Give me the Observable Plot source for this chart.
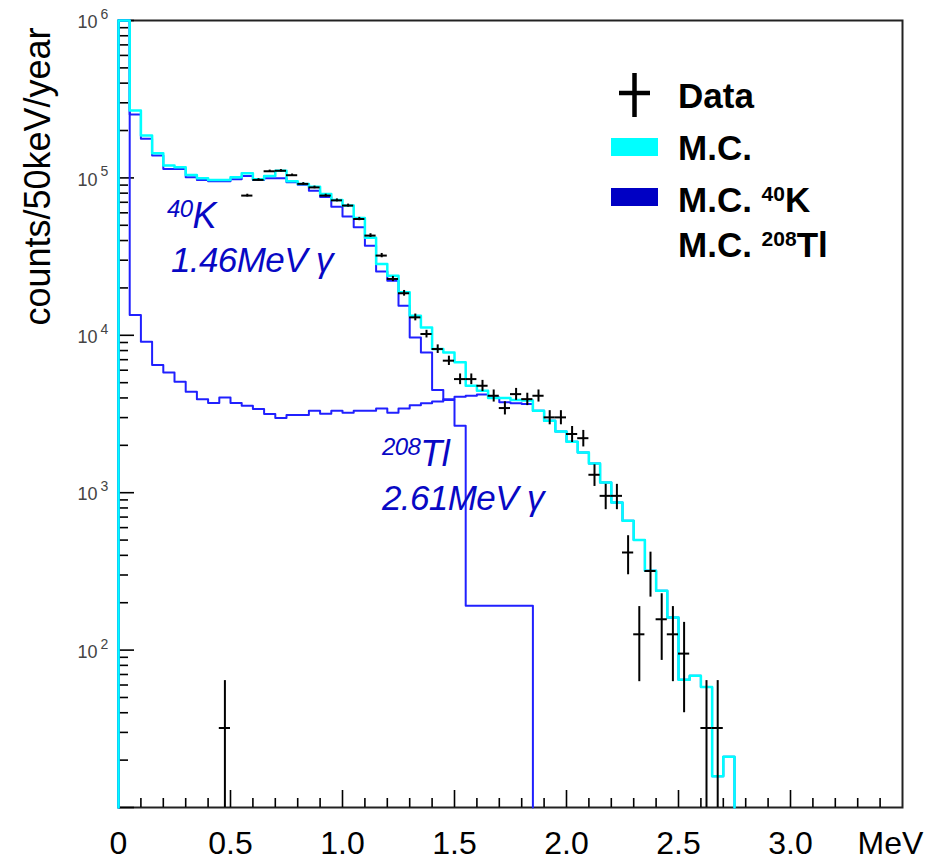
<!DOCTYPE html>
<html><head><meta charset="utf-8">
<script src="https://cdn.jsdelivr.net/npm/d3@7"></script>
<script src="https://cdn.jsdelivr.net/npm/@observablehq/plot@0.6"></script>
<style>
body{margin:0;background:#fff;}
#chart{width:931px;height:861px;}
</style></head><body><div id="chart"></div>
<script>
// ---- data (counts / 50 keV / year), 50 keV bins starting at 0 MeV ----
const binWidth = 0.05; // MeV
const mcTotal = [3e6, 268000, 186000, 143600, 120000, 117000, 104500, 99400, 97100, 97000,
  100900, 107000, 98000, 103000, 111000, 95200, 91600, 88000, 79000, 72400,
  66700, 55700, 41600, 28400, 23900, 18750, 13330, 11220, 8180, 7780,
  6730, 4780, 4440, 4000, 4000, 3880, 3850, 3320, 2870, 2450,
  2110, 1800, 1535, 1160, 867, 663, 500, 319, 238, 161,
  64.7, 68.6, 58.3, 15.8, 21.0];
const mcK40 = [3e6, 252700, 177000, 138700, 114000, 114000, 100900, 97100, 95200, 95200,
  98000, 103000, 97000, 99400, 99400, 94000, 90400, 83000, 75500, 65500,
  56800, 48500, 37100, 25400, 22200, 15400, 9700, 7780, 4490, 3880,
  2660, 191, 191, 191, 191, 191, 191];
const mcTl208 = [3e6, 13460, 9100, 6470, 5810, 5070, 4380, 3930, 3710, 4030,
  3710, 3570, 3400, 3160, 2980, 3120, 3120, 3320, 3170, 3320,
  3220, 3320, 3320, 3430, 3220, 3430, 3600, 3700, 3800, 3930,
  4070, 4130, 4200, 4030, 3750, 3700, 3660, 3320, 2870, 2450,
  2110, 1800, 1535, 1160, 867, 663, 500, 319, 238, 161,
  64.7, 68.6, 58.3, 15.8, 21.0];
const dataEnergy = [0.475, 0.575, 0.625, 0.675, 0.725, 0.775, 0.825, 0.875, 0.925, 0.975,
  1.025, 1.075, 1.125, 1.175, 1.225, 1.275, 1.325, 1.375, 1.425, 1.475,
  1.525, 1.575, 1.625, 1.675, 1.725, 1.775, 1.825, 1.875, 1.925, 1.975,
  2.025, 2.075, 2.125, 2.175, 2.225, 2.275, 2.325, 2.375, 2.425, 2.475,
  2.525, 2.625, 2.675];
const dataValues = [32, 77200, 97100, 110200, 111000, 104000, 91600, 87000, 77200, 72000,
  66700, 54800, 43000, 32100, 22800, 18500, 13000, 10190, 8180, 6900,
  5270, 5270, 4780, 4130, 3450, 4230, 3930, 4130, 3010, 3010,
  2360, 2220, 1300, 955, 955, 417, 126, 318, 157, 126,
  95, 32, 32];
const dataErrors = [32, 1572, 1763, 1878, 1885, 1824, 1712, 1669, 1572, 1518,
  1461, 1324, 1173, 1014, 854, 769, 645, 571, 512, 470,
  411, 411, 391, 364, 332, 368, 355, 364, 310, 310,
  275, 267, 204, 175, 175, 116, 63, 101, 71, 63,
  55, 32, 32];
const xTickValues = [0, 0.5, 1.0, 1.5, 2.0, 2.5, 3.0];
const xTickLabels = ["0", "0.5", "1.0", "1.5", "2.0", "2.5", "3.0"];
const xUnit = "MeV";
const yDecades = [1e1, 1e2, 1e3, 1e4, 1e5, 1e6];
const yLabelDecades = [1e2, 1e3, 1e4, 1e5, 1e6];
const yTitle = "counts/50keV/year";
const legendLabels = [[["Data"]], [["M.C."]], [["M.C. "], ["40", true], ["K"]], [["M.C. "], ["208", true], ["Tl"]]];
const annotationK = [[["40", true], ["K"]], [["1.46MeV γ"]]];
const annotationTl = [[["208", true], ["Tl"]], [["2.61MeV γ"]]];

// ---- colours ----
const cyan = "#00ffff", lineBlue = "#2020ff", textBlue = "#0808c4", swatchBlue = "#0000c4";

// ---- helpers ----
const FLOOR = 1; // below the axis, clamped onto it
const outline = vals => [{x: 0, y: FLOOR}, ...vals.map((v, i) => ({x: i * binWidth, y: v})), {x: vals.length * binWidth, y: FLOOR}];
const points = dataEnergy.map((e, i) => ({e, v: dataValues[i], lo: Math.max(dataValues[i] - dataErrors[i], FLOOR), hi: dataValues[i] + dataErrors[i]}));

const W = 931, H = 861, ML = 118, MR = 29, MT = 20, MB = 54;
const FW = W - ML - MR, FH = H - MT - MB;
const xMajor = d3.range(0.5, 3.01, 0.5);
const xMinor = d3.range(1, 35).map(i => i / 10).filter(v => Math.abs(v * 2 - Math.round(v * 2)) > 1e-6);
const yMinor = [];
for (const d of yDecades.slice(0, -1)) for (let k = 2; k <= 9; k++) yMinor.push(d * k);

function richText(g, x, y, parts, size, supSize, raise, attrs) {
  const t = g.append("text").attr("x", x).attr("y", y).attr("font-size", size).attr("text-anchor", "start");
  for (const [k, v] of Object.entries(attrs)) t.attr(k, v);
  let up = false;
  for (const [s, sup] of parts) {
    const ts = t.append("tspan").text(s);
    if (sup) { ts.attr("font-size", supSize).attr("dy", -raise); up = true; }
    else if (up) { ts.attr("dy", raise); up = false; }
  }
}

function overlay() {
  const g = d3.create("svg:g").attr("font-family", "'Liberation Sans', Arial, sans-serif").attr("text-anchor", "start");
  // legend
  g.append("line").attr("x1", 619).attr("x2", 650).attr("y1", 93).attr("y2", 93).attr("stroke", "black").attr("stroke-width", 4.5);
  g.append("line").attr("x1", 634.5).attr("x2", 634.5).attr("y1", 73).attr("y2", 117).attr("stroke", "black").attr("stroke-width", 4.5);
  g.append("rect").attr("x", 611).attr("y", 138).attr("width", 47).attr("height", 18).attr("fill", cyan);
  g.append("rect").attr("x", 611).attr("y", 188).attr("width", 47).attr("height", 18).attr("fill", swatchBlue);
  const ly = [108, 160, 212, 257];
  legendLabels.forEach((parts, i) => richText(g, 678, ly[i], parts, 35, 21, 11, {"font-weight": "bold", fill: "black"}));
  // annotations
  const ann = {"font-style": "italic", fill: textBlue, "letter-spacing": -0.6};
  richText(g, 167, 228, annotationK[0], 36, 24, 11, ann);
  richText(g, 171, 272, annotationK[1], 35, 24, 11, ann);
  richText(g, 382, 466, annotationTl[0], 36, 24, 11, ann);
  richText(g, 382, 510, annotationTl[1], 35, 24, 11, ann);
  return g.node();
}

const plot = Plot.plot({
  width: W, height: H,
  marginLeft: ML, marginRight: MR, marginTop: MT, marginBottom: MB,
  style: {fontFamily: "'Liberation Sans', Arial, sans-serif", background: "white", color: "black"},
  x: {domain: [0, 3.5], axis: null},
  y: {type: "log", domain: [10, 1e6], axis: null, clamp: true},
  marks: [
    Plot.frame({stroke: "#222", strokeWidth: 2}),
    Plot.tickX(xMinor, {x: d => d, insetTop: FH - 9, stroke: "black", strokeWidth: 1.6}),
    Plot.tickX(xMajor, {x: d => d, insetTop: FH - 17, stroke: "black", strokeWidth: 1.6}),
    Plot.tickY(yMinor, {y: d => d, insetRight: FW - 10, stroke: "black", strokeWidth: 1.6}),
    Plot.tickY(yDecades, {y: d => d, insetRight: FW - 16, stroke: "black", strokeWidth: 1.6}),
    Plot.text(yLabelDecades, {y: d => d, frameAnchor: "left", text: () => "10", textAnchor: "end", dx: -21, dy: 2, fontSize: 18, fill: "#444"}),
    Plot.text(yLabelDecades, {y: d => d, frameAnchor: "left", text: d => String(Math.round(Math.log10(d))), textAnchor: "start", dx: -18, dy: -6, fontSize: 14, fill: "#444"}),
    Plot.text(xTickValues, {x: d => d, frameAnchor: "bottom", text: (d, i) => xTickLabels[i], dy: 36, fontSize: 32, lineAnchor: "middle", fill: "black"}),
    Plot.text([xUnit], {frameAnchor: "bottom-right", textAnchor: "middle", dx: -12, dy: 36, fontSize: 32, lineAnchor: "middle", fill: "black"}),
    Plot.text([yTitle], {frameAnchor: "top-left", rotate: -90, dx: -80, dy: 156, fontSize: 36, textAnchor: "middle", lineAnchor: "middle", fill: "black"}),
    Plot.line(outline(mcTl208), {x: "x", y: "y", curve: "step-after", stroke: lineBlue, strokeWidth: 2}),
    Plot.line(outline(mcK40), {x: "x", y: "y", curve: "step-after", stroke: lineBlue, strokeWidth: 2}),
    Plot.line(outline(mcTotal), {x: "x", y: "y", curve: "step-after", stroke: cyan, strokeWidth: 2.5}),
    Plot.ruleX(points, {x: "e", y1: "lo", y2: "hi", stroke: "black", strokeWidth: 2}),
    Plot.ruleY(points, {y: "v", x1: d => d.e - binWidth / 2, x2: d => d.e + binWidth / 2, stroke: "black", strokeWidth: 2}),
    overlay
  ]
});
document.getElementById("chart").append(plot);
</script></body></html>
